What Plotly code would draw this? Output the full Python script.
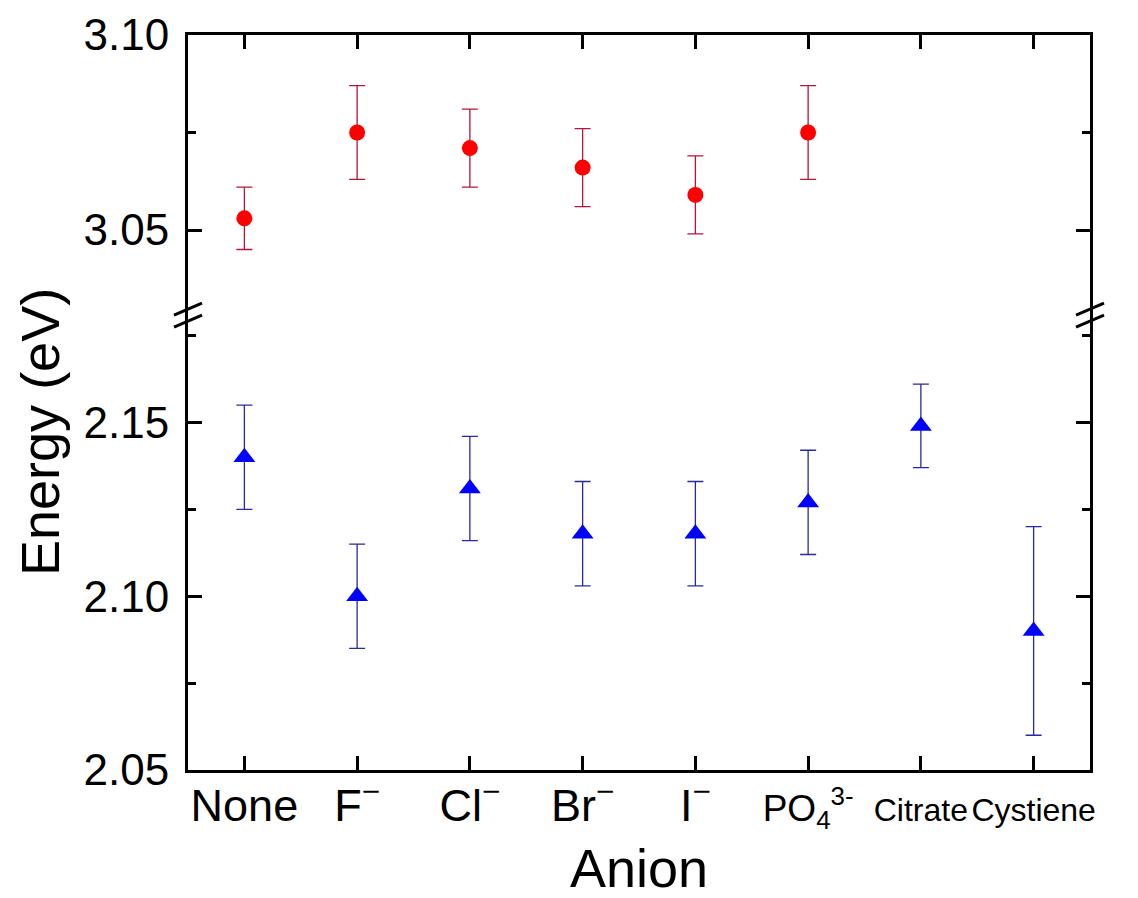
import plotly.graph_objects as go

# ---- data ----
categories = ["None", "F-", "Cl-", "Br-", "I-", "PO4 3-", "Citrate", "Cystiene"]
tick_labels = [
    "None",
    "F<sup>−</sup>",
    "Cl<sup>−</sup>",
    "Br<sup>−</sup>",
    "I<sup>−</sup>",
    "<span style='font-size:37px'>PO<sub>4</sub><sup>3-</sup></span>",
    "<span style='font-size:32px'>Citrate</span>",
    "<span style='font-size:32px'>Cystiene</span>",
]

high_cats = ["None", "F-", "Cl-", "Br-", "I-", "PO4 3-"]
high_energy = [3.053, 3.075, 3.071, 3.066, 3.059, 3.075]
high_err = [0.008, 0.012, 0.010, 0.010, 0.010, 0.012]

low_cats = ["None", "F-", "Cl-", "Br-", "I-", "PO4 3-", "Citrate", "Cystiene"]
low_energy = [2.140, 2.100, 2.131, 2.118, 2.118, 2.127, 2.149, 2.090]
low_err = [0.015, 0.015, 0.015, 0.015, 0.015, 0.015, 0.012, 0.030]

FONT = "Arial, Liberation Sans, sans-serif"
BREAK = 0.619

fig = go.Figure()

fig.add_trace(go.Scatter(
    x=low_cats, y=low_energy, mode="markers",
    marker=dict(symbol="triangle-up", size=19, color="#0000ff"),
    error_y=dict(type="data", array=low_err, visible=True,
                 color="#2a2aa0", thickness=1.3, width=8),
    xaxis="x", yaxis="y", showlegend=False,
))
fig.add_trace(go.Scatter(
    x=high_cats, y=high_energy, mode="markers",
    marker=dict(symbol="circle", size=16, color="#ff0000"),
    error_y=dict(type="data", array=high_err, visible=True,
                 color="#b8143c", thickness=1.3, width=8),
    xaxis="x2", yaxis="y2", showlegend=False,
))

common_x = dict(
    type="category", categoryorder="array", categoryarray=categories,
    range=[-0.5, 7.5], showline=True, linecolor="black", linewidth=3,
    ticks="inside", ticklen=14, tickwidth=2.5, tickcolor="black",
    tickvals=categories, ticktext=tick_labels, showgrid=False, zeroline=False,
    tickangle=0, automargin=False,
)

# page body has an 8px margin, so the figure is sized/offset to compensate
fig.update_layout(
    width=1130, height=890,
    margin=dict(l=180, r=48, t=27, b=128),
    paper_bgcolor="white", plot_bgcolor="white",
    font=dict(family=FONT, color="black"),
    xaxis=dict(**common_x, anchor="y", side="bottom",
               ticklabelstandoff=-6,
               tickfont=dict(size=45, family=FONT, color="black")),
    xaxis2=dict(**common_x, anchor="y2", side="top", showticklabels=False),
    yaxis=dict(
        domain=[0, BREAK], range=[2.05, 2.1809], anchor="x",
        showline=True, linecolor="black", linewidth=3, mirror="ticks",
        ticks="inside", ticklen=14, tickwidth=2.5, tickcolor="black",
        tickvals=[2.05, 2.10, 2.15], ticktext=["2.05", "2.10", "2.15"],
        minor=dict(tickvals=[2.075, 2.125, 2.175], ticks="inside", ticklen=8,
                   tickwidth=2.5, tickcolor="black", showgrid=False),
        tickfont=dict(size=44, family=FONT, color="black"),
        ticklabelstandoff=7, automargin=False,
        showgrid=False, zeroline=False,
    ),
    yaxis2=dict(
        domain=[BREAK, 1], range=[3.0282, 3.10], anchor="x2",
        showline=True, linecolor="black", linewidth=3, mirror="ticks",
        ticks="inside", ticklen=14, tickwidth=2.5, tickcolor="black",
        tickvals=[3.05, 3.10], ticktext=["3.05", "3.10"],
        minor=dict(tickvals=[3.075], ticks="inside", ticklen=8,
                   tickwidth=2.5, tickcolor="black", showgrid=False),
        tickfont=dict(size=44, family=FONT, color="black"),
        ticklabelstandoff=7, automargin=False,
        showgrid=False, zeroline=False,
    ),
    annotations=[
        dict(text="Energy (eV)", xref="paper", yref="paper",
             x=-0.164, y=0.46, xanchor="center", yanchor="middle",
             textangle=-90, showarrow=False,
             font=dict(size=54, family=FONT, color="black")),
        dict(text="Anion", xref="paper", yref="paper",
             x=0.5, y=-0.133, xanchor="center", yanchor="middle",
             showarrow=False,
             font=dict(size=54, family=FONT, color="black")),
    ],
)

# axis-break marks on left and right spines
shapes = []
for xa in (0, 1):
    for (y0, y1) in ((0, 12), (-12, 0)):
        shapes.append(dict(
            type="line", xref="paper", yref="paper",
            xsizemode="pixel", xanchor=xa, x0=-14, x1=14,
            ysizemode="pixel", yanchor=BREAK, y0=y0, y1=y1,
            line=dict(color="black", width=3),
        ))
fig.update_layout(shapes=shapes)

fig.write_html("out.html")
